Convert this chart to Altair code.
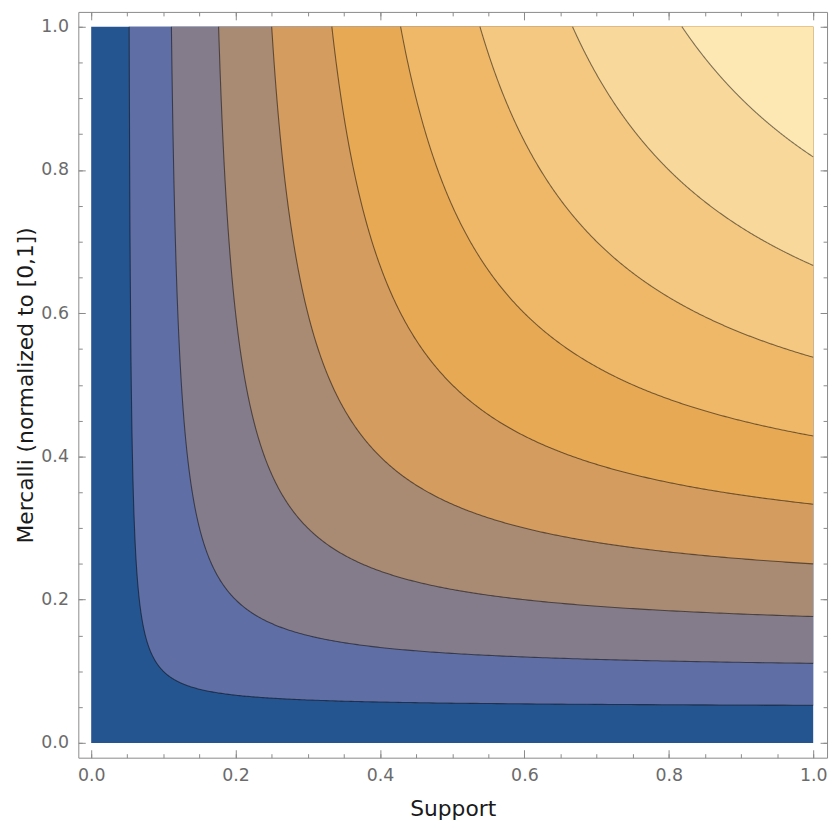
import altair as alt
import numpy as np
import pandas as pd

# Contour levels of f(x, y) = 2xy / (x + y) (harmonic mean), bands between them
levels = [0.1, 0.2, 0.3, 0.4, 0.5, 0.6, 0.7, 0.8, 0.9]
band_colors = ["#255590", "#5f6fa5", "#847c8a", "#a98a73", "#d49c5e",
               "#e8a955", "#efb869", "#f4c880", "#f9d99b", "#fde8b4"]
major_ticks = [0.0, 0.2, 0.4, 0.6, 0.8, 1.0]
minor_ticks = [0.0, 0.05, 0.1, 0.15, 0.2, 0.25, 0.3, 0.35, 0.4, 0.45, 0.5,
               0.55, 0.6, 0.65, 0.7, 0.75, 0.8, 0.85, 0.9, 0.95, 1.0]
x_title = "Support"
y_title = "Mercalli (normalized to [0,1])"

# contour curves: (x - c/2)(y - c/2) = c^2/4
rows = []
for i, c in enumerate(levels):
    T = np.log((2 - c) / c)
    for k, t in enumerate(np.linspace(-T, T, 401)):
        rows.append({"level": c, "k": k,
                     "x": c / 2 + c / 2 * np.exp(t),
                     "y": c / 2 + c / 2 * np.exp(-t),
                     "top": 1.0})
curves = pd.DataFrame(rows)
base_df = pd.DataFrame({"x0": [0.0], "x1": [1.0], "y0": [0.0], "y1": [1.0]})

xs = alt.Scale(domain=[-0.01783, 1.0192], nice=False, zero=False)
ys = alt.Scale(domain=[-0.0206, 1.0206], nice=False, zero=False)

FONT = "DejaVu Sans"
TICK = "#8a8a8a"


def axis(orient, values, size, labels=False, title=None, pad=0, tpad=0):
    kw = dict(orient=orient, values=values, tickSize=size, offset=-size,
              domain=False, grid=False, labels=labels, tickColor=TICK,
              tickWidth=1, labelFlush=False, labelOverlap=False)
    if labels:
        kw.update(format=".1f", labelFont=FONT, labelFontSize=17.5,
                  labelColor="#6b6b6b", labelPadding=pad)
    if title:
        kw.update(title=title, titleFont=FONT, titleFontSize=22,
                  titleFontWeight="normal", titleColor="#1a1a1a",
                  titlePadding=tpad)
    else:
        kw.update(title=None)
    return alt.Axis(**kw)


base = alt.Chart(base_df).mark_rect(color=band_colors[0]).encode(
    x=alt.X("x0:Q", scale=xs,
            axis=axis("bottom", major_ticks, 8, True, x_title, 9, 15)),
    x2="x1:Q",
    y=alt.Y("y0:Q", scale=ys,
            axis=axis("left", major_ticks, 7, True, y_title, 10, 3)),
    y2="y1:Q",
)

extra_axes = [
    (axis("bottom", minor_ticks, 4), axis("left", minor_ticks, 4)),
    (axis("top", major_ticks, 8), axis("right", major_ticks, 7)),
    (axis("top", minor_ticks, 4), axis("right", minor_ticks, 4)),
]

layers = [base]
for i, c in enumerate(levels):
    if i < len(extra_axes):
        ax_x, ax_y = extra_axes[i]
    else:
        ax_x, ax_y = None, None
    d = curves[curves["level"] == c].sort_values("x")
    layers.append(
        alt.Chart(d).mark_area(color=band_colors[i + 1], interpolate="linear",
                               opacity=1).encode(
            x=alt.X("x:Q", scale=xs, axis=ax_x),
            y=alt.Y("y:Q", scale=ys, axis=ax_y),
            y2=alt.Y2("top:Q"),
        )
    )

lines = alt.Chart(curves).mark_line(color="#000000", strokeOpacity=0.5,
                                    strokeWidth=1.1).encode(
    x=alt.X("x:Q", scale=xs, axis=None),
    y=alt.Y("y:Q", scale=ys, axis=None),
    detail="level:N",
    order="k:Q",
)
layers.append(lines)

chart = alt.layer(*layers).resolve_axis(x="independent", y="independent").resolve_scale(
    x="shared", y="shared"
).properties(
    width=756, height=753,
    autosize=alt.AutoSizeParams(type="none"),
    padding={"left": 71, "top": 0, "right": 5, "bottom": 63},
).configure_view(stroke="#8a8a8a", strokeWidth=1)

chart.save("out.html", embed_options={"renderer": "svg", "actions": False})
